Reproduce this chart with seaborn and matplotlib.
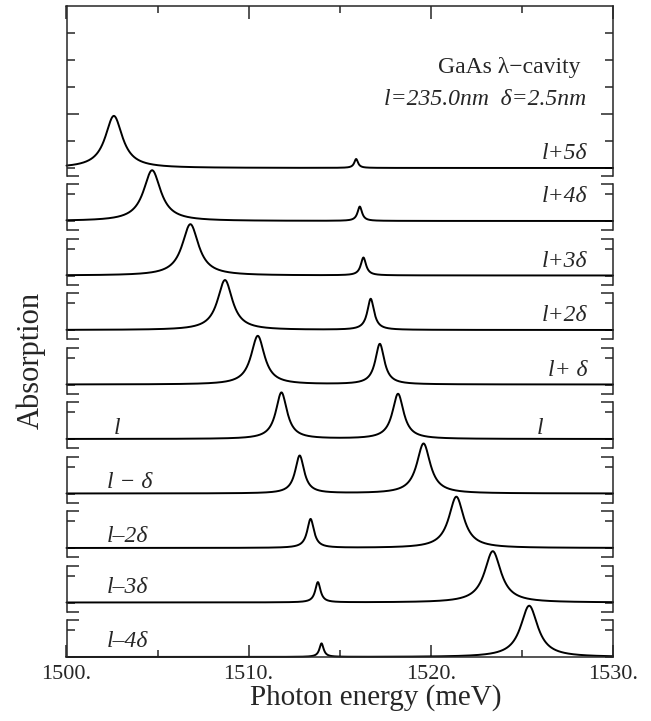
#import libraries
import numpy as np
import matplotlib.pyplot as plt
import seaborn as sns

sns.set_style('ticks')
plt.rcParams['font.family'] = ['Liberation Serif', 'DejaVu Serif']

#data: two absorption peaks per cavity thickness
labels = ['l+5δ', 'l+4δ', 'l+3δ', 'l+2δ', 'l+ δ', 'l', 'l − δ', 'l–2δ', 'l–3δ', 'l–4δ']
low_pos = [1502.6, 1504.7, 1506.8, 1508.7, 1510.5, 1511.8, 1512.8, 1513.4, 1513.8, 1514.0]
low_height = [1.93, 1.88, 1.90, 1.85, 1.80, 1.72, 1.40, 1.07, 0.75, 0.50]
low_width = [1.15, 1.15, 1.10, 1.00, 0.90, 0.75, 0.60, 0.45, 0.35, 0.28]
high_pos = [1515.9, 1516.1, 1516.3, 1516.7, 1517.2, 1518.2, 1519.6, 1521.4, 1523.4, 1525.4]
high_height = [0.33, 0.53, 0.66, 1.15, 1.50, 1.67, 1.85, 1.90, 1.90, 1.90]
high_width = [0.25, 0.30, 0.35, 0.45, 0.60, 0.75, 0.90, 1.00, 1.10, 1.15]

energy = np.linspace(1500, 1530, 1501)

def lorentz(e, e0, h, w):
    return h / (1 + ((e - e0) / (w / 2)) ** 2)

#layout in pixels
W, H = 651, 721
left, right = 66.5, 613
unit = 27.0
label_y = [0.35, 0.7, 0.3, 0.35, 0.3, 0.18, 0.22, 0.22, 0.35, 0.38]

fig = plt.figure(figsize=(W / 100, H / 100), dpi=100)

for i, lab in enumerate(labels):
    if i == 0:
        top, bottom, base = 6, 176, 168
    else:
        base = 221 + 54.5 * (i - 1)
        top = base - 37
        bottom = base + 9 if i < 9 else base
    y0, y1 = -(bottom - base) / unit, (base - top) / unit
    ax = fig.add_axes([left / W, 1 - bottom / H, (right - left) / W, (bottom - top) / H])
    ax.patch.set_alpha(0)
    curve = lorentz(energy, low_pos[i], low_height[i], low_width[i]) + \
        lorentz(energy, high_pos[i], high_height[i], high_width[i])
    sns.lineplot(x=energy, y=curve, ax=ax, color='black', lw=1.4, clip_on=False)
    ax.set_xlim(1500, 1530)
    ax.set_ylim(y0, y1)
    for s in ['left', 'right', 'top', 'bottom']:
        ax.spines[s].set_linewidth(1.1)
    ax.spines['top'].set_visible(i == 0)
    ax.spines['bottom'].set_visible(i == 9)

    #y brackets on both sides
    if i == 0:
        ax.set_yticks([y0, 2])
        ax.set_yticks([0, 1, 3, 4, 5], minor=True)
    else:
        ax.set_yticks([y0, y1] if i < 9 else [y1])
        ax.set_yticks([0, 1], minor=True)
    ax.tick_params(axis='y', which='both', direction='in', left=True, right=True,
                   labelleft=False, width=1.1)
    ax.tick_params(axis='y', which='major', length=8.5)
    ax.tick_params(axis='y', which='minor', length=5.5)

    ax.set_xticks([1500, 1510, 1520, 1530])
    ax.set_xticks([1505, 1515, 1525], minor=True)
    if i == 0:
        ax.tick_params(axis='x', which='both', direction='in', top=True, bottom=False,
                       labelbottom=False, width=1.1)
        ax.tick_params(axis='x', which='major', length=9)
        ax.tick_params(axis='x', which='minor', length=5)
    elif i == 9:
        ax.set_xticklabels(['1500.', '1510.', '1520.', '1530.'], fontsize=16)
        ax.tick_params(axis='x', which='both', direction='in', top=False, bottom=True,
                       width=1.1, pad=6)
        ax.tick_params(axis='x', which='major', length=9)
        ax.tick_params(axis='x', which='minor', length=5)
    else:
        ax.tick_params(axis='x', which='both', bottom=False, top=False, labelbottom=False)
    ax.set_xlabel('')
    ax.set_ylabel('')

    #panel labels
    if i < 5:
        ax.text(1528.6, label_y[i], lab, ha='right', va='baseline', fontsize=17, style='italic')
    elif i == 5:
        ax.text(1502.6, label_y[i], lab, ha='left', va='baseline', fontsize=17, style='italic')
        ax.text(1526.0, label_y[i], lab, ha='center', va='baseline', fontsize=17, style='italic')
    else:
        ax.text(1502.2, label_y[i], lab, ha='left', va='baseline', fontsize=17, style='italic')

    if i == 0:
        ax.text(1528.2, 3.5, 'GaAs λ−cavity', ha='right', va='baseline', fontsize=17)
        ax.text(1528.5, 2.35, 'l=235.0nm  δ=2.5nm', ha='right', va='baseline',
                fontsize=17, style='italic')

fig.text(31 / W, 1 - 360 / H, 'Absorption', rotation=90, ha='center', va='center', fontsize=22)
fig.text(376 / W, 1 - 698 / H, 'Photon energy (meV)', ha='center', va='center', fontsize=21)

plt.savefig('out.png', dpi=100)
